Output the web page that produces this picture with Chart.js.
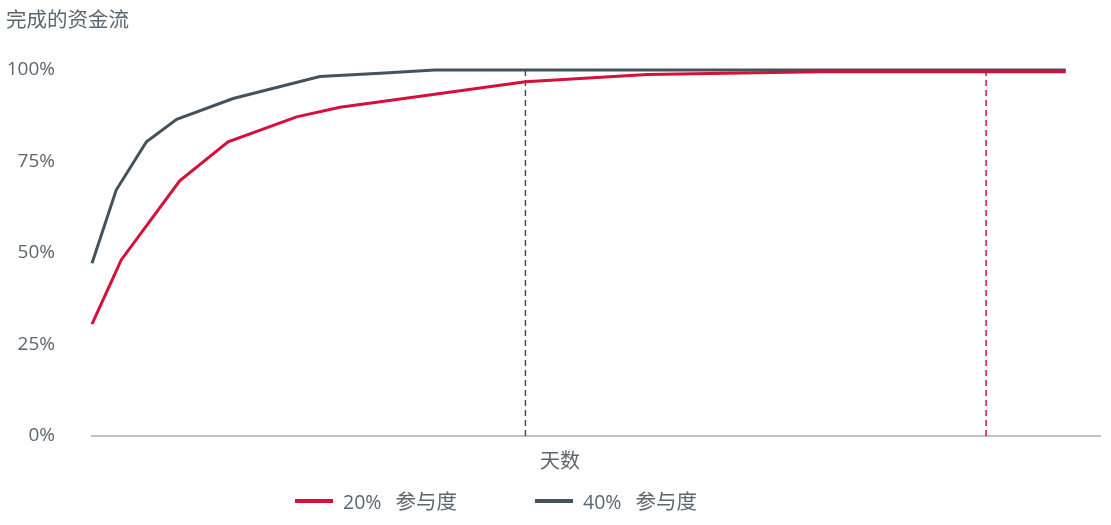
<!DOCTYPE html>
<html lang="zh">
<head>
  <meta charset="UTF-8" />
  <title>完成的资金流</title>
  <script src="https://cdn.jsdelivr.net/npm/chart.js"></script>
  <style>
    body { margin: 0; background: #fff; font-family: 'Open Sans', 'Noto Sans CJK SC', sans-serif; color: #5b6770; }
    .wrap { position: relative; width: 1111px; height: 525px; }
    canvas { position: absolute; left: 0; top: 0; }
    .txt { position: absolute; white-space: pre; line-height: 1; }
    .title { left: 6px; top: 9px; font-size: 20.5px; }
    .xtitle { left: 540px; top: 451px; font-size: 20px; }
    .legend { top: 491px; font-size: 19.5px; display: flex; align-items: center; }
    .legend i { display: inline-block; width: 38px; height: 4px; margin-right: 10px; }
    .legend b { font-weight: normal; margin-left: 14px; font-size: 20.5px; }
  </style>
</head>
<body>
  <div class="wrap">
    <canvas id="chart" width="1111" height="525"></canvas>
    <div class="txt title">完成的资金流</div>
    <div class="txt xtitle">天数</div>
    <div class="txt legend" style="left:295px"><i style="background:#d4103b"></i>20%<b>参与度</b></div>
    <div class="txt legend" style="left:535px"><i style="background:#44525c"></i>40%<b>参与度</b></div>
  </div>

  <script>
    // x = days (relative scale 0..100), y = % of funding completed
    const daysRed  = [0, 2.9, 8.7, 13.5, 20.3, 24.6, 28.6, 43, 55.1, 72.2, 96.6];
    const pctRed   = [30.6, 48.1, 69.7, 80.4, 87.2, 89.8, 91.3, 96.8, 98.8, 99.5, 99.5];
    const daysGray = [0, 2.4, 5.4, 8.4, 14, 22.6, 28.6, 34, 96.6];
    const pctGray  = [47.2, 67.2, 80.4, 86.5, 92.2, 98.2, 99.1, 100, 100];
    const markRed  = 88.7;   // day where 20% reaches full
    const markGray = 43;     // day where 40% reaches full
    const yTicks   = [0, 25, 50, 75, 100];

    const RED = '#d4103b', GRAY = '#44525c';
    const pts = (xs, ys) => xs.map((x, i) => ({ x: x, y: ys[i] }));

    new Chart(document.getElementById('chart'), {
      type: 'line',
      data: {
        datasets: [
          { label: '20%  参与度', data: pts(daysRed, pctRed), borderColor: RED, borderWidth: 3, pointRadius: 0, clip: false },
          { label: '40%  参与度', data: pts(daysGray, pctGray), borderColor: GRAY, borderWidth: 3, pointRadius: 0, clip: false },
          { label: 'mark40', data: [{ x: markGray, y: 0 }, { x: markGray, y: 100 }], borderColor: GRAY, borderWidth: 1.5, borderDash: [6, 4], pointRadius: 0, clip: false },
          { label: 'mark20', data: [{ x: markRed, y: 0 }, { x: markRed, y: 99.5 }], borderColor: RED, borderWidth: 1.5, borderDash: [6, 4], pointRadius: 0, clip: false }
        ]
      },
      options: {
        responsive: false,
        animation: false,
        layout: { padding: { top: 70, bottom: 89, right: 11, left: 0 } },
        plugins: { legend: { display: false }, tooltip: { enabled: false } },
        scales: {
          x: {
            type: 'linear', min: 0, max: 100,
            grid: { display: false },
            border: { display: true, color: '#bcc3ca', width: 2 },
            ticks: { display: false },
            afterFit: s => { s.height = 0; }
          },
          y: {
            min: 0, max: 100,
            afterBuildTicks: s => { s.ticks = yTicks.map(v => ({ value: v })); },
            grid: { display: false, drawTicks: false },
            border: { display: false },
            ticks: {
              padding: 37, color: '#5b6770',
              font: { family: "'Open Sans', 'Noto Sans CJK SC', sans-serif", size: 19 },
              callback: v => v + '%'
            },
            afterFit: s => { s.width = 92; }
          }
        }
      }
    });
  </script>
</body>
</html>
